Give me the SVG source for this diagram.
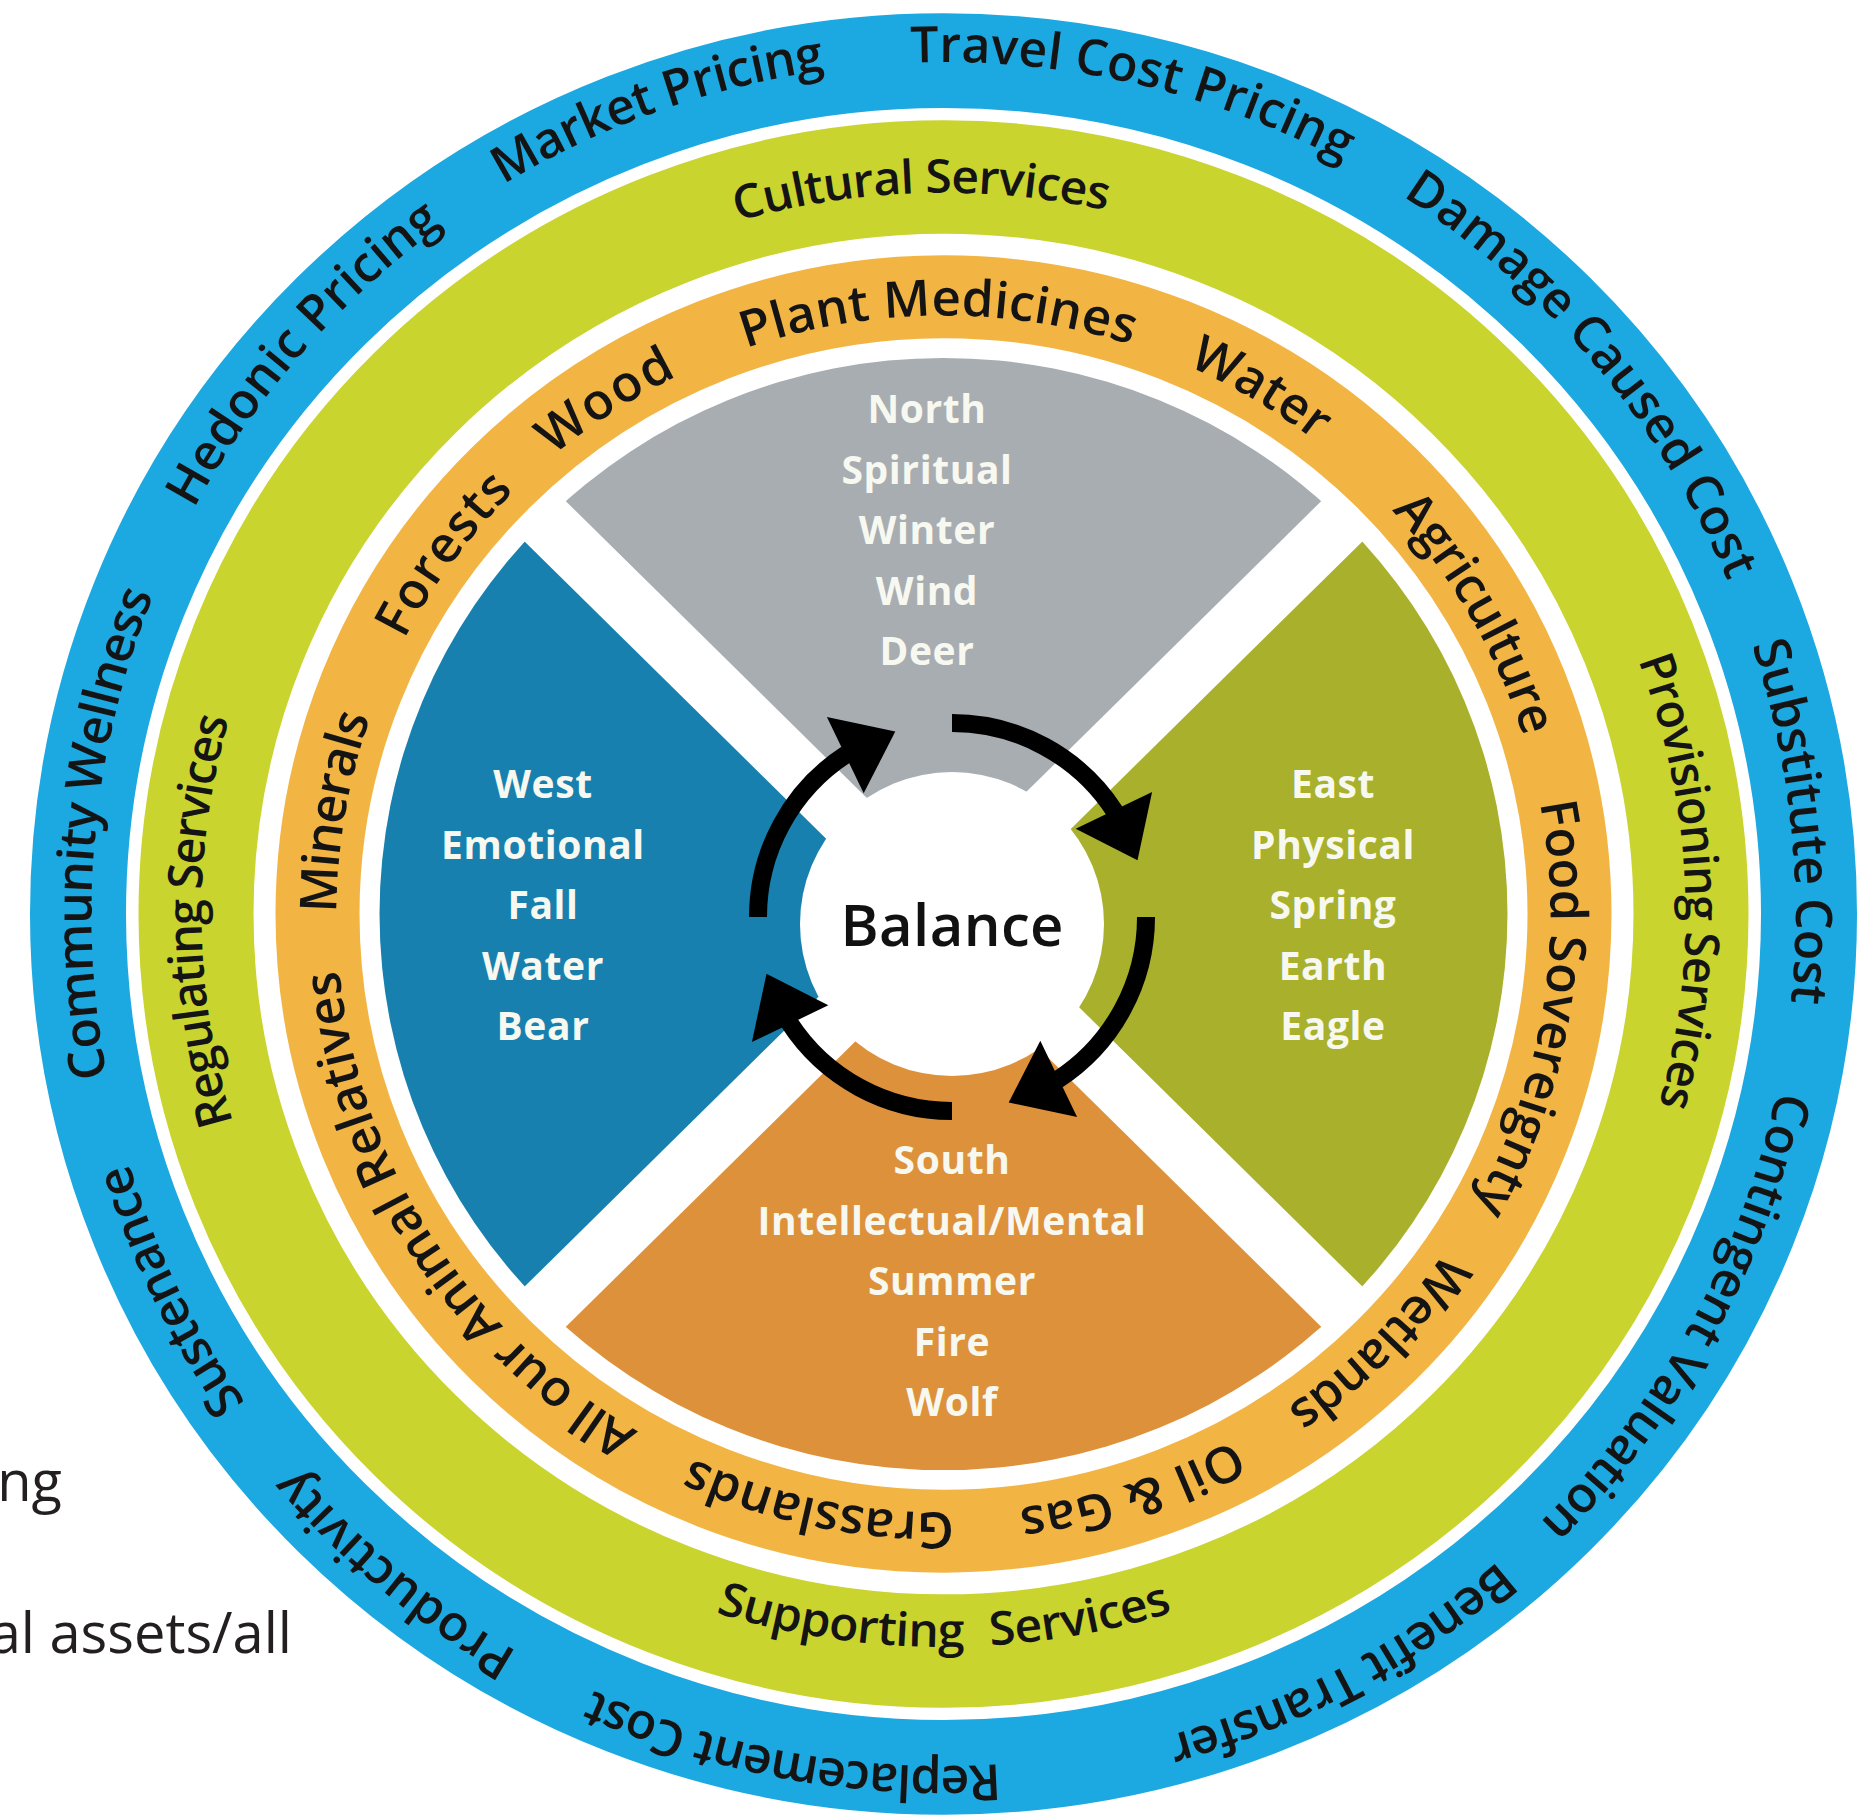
<svg xmlns="http://www.w3.org/2000/svg" width="1871" height="1819" viewBox="0 0 1871 1819">
<style>
.rt{font-family:"Open Sans","Noto Sans",sans-serif;font-weight:600;fill:#141414}
.bt{font-size:50px}
.gt{font-size:48px}
.ot{font-size:51px}
.qt{font-family:"Open Sans","Noto Sans",sans-serif;font-weight:700;font-size:39px;fill:#F7F8F0;text-anchor:middle;letter-spacing:0.6px}
.frag{font-family:"Open Sans","Noto Sans",sans-serif;font-size:56px;fill:#231F20;text-anchor:end}
.sec{stroke:none}
</style>
<defs>
<path id="pb" d="M852,0 A852,852 0 1 1 -852,0 A852,852 0 1 1 852,0"/>
<path id="pg" d="M742,0 A742,742 0 1 1 -742,0 A742,742 0 1 1 742,0"/>
<path id="pgc" d="M754,0 A754,754 0 1 0 -754,0 A754,754 0 1 0 754,0"/>
<path id="po" d="M607,0 A607,607 0 1 1 -607,0 A607,607 0 1 1 607,0"/>
<g id="arr">
<path d="M758,917 A194,194 0 0 1 846.3,754.3" fill="none" stroke="#000" stroke-width="18"/>
<polygon points="863.7,793.3 826.9,716.9 895.3,731.5" fill="#000"/>
</g>
</defs>
<rect width="1871" height="1819" fill="#fff"/>
<g id="rings" transform="translate(943.5,914) scale(1,0.986)">
<circle r="865.5" fill="none" stroke="#1CA8E0" stroke-width="96"/>
<circle r="747.5" fill="none" stroke="#C9D42F" stroke-width="115"/>
<circle r="626" fill="none" stroke="#F2B544" stroke-width="84"/>
</g>
<g id="valuation-labels" class="rt bt" transform="translate(943.5,914)">
<text transform="rotate(169)"><textPath href="#pb" textLength="490.7" lengthAdjust="spacing">Community Wellness</textPath></text>
<text transform="rotate(208.4)"><textPath href="#pb" textLength="380.7" lengthAdjust="spacing">Hedonic Pricing</textPath></text>
<text transform="rotate(238.9)"><textPath href="#pb" textLength="343.5" lengthAdjust="spacing">Market Pricing</textPath></text>
<text transform="rotate(267.8)"><textPath href="#pb" textLength="449.1" lengthAdjust="spacing">Travel Cost Pricing</textPath></text>
<text transform="rotate(302.6)"><textPath href="#pb" textLength="511.5" lengthAdjust="spacing">Damage Caused Cost</textPath></text>
<text transform="rotate(341.6)"><textPath href="#pb" textLength="362.8" lengthAdjust="spacing">Substitute Cost</textPath></text>
<text transform="rotate(12)"><textPath href="#pb" textLength="499.6" lengthAdjust="spacing">Contingent Valuation</textPath></text>
<text transform="rotate(49.4)"><textPath href="#pb" textLength="377.7" lengthAdjust="spacing">Benefit Transfer</textPath></text>
<text transform="rotate(86.2)"><textPath href="#pb" textLength="417.8" lengthAdjust="spacing">Replacement Cost</textPath></text>
<text transform="rotate(120)"><textPath href="#pb" textLength="290" lengthAdjust="spacing">Productivity</textPath></text>
<text transform="rotate(145)"><textPath href="#pb" textLength="267.7" lengthAdjust="spacing">Sustenance</textPath></text>
</g>
<g id="service-labels" class="rt gt" transform="translate(943.5,914) scale(1,0.972)">
<text transform="rotate(253.9)"><textPath href="#pg" textLength="373" lengthAdjust="spacing">Cultural Services</textPath></text>
<text transform="rotate(339.4)"><textPath href="#pg" textLength="466" lengthAdjust="spacing">Provisioning Services</textPath></text>
<text transform="rotate(163.2)"><textPath href="#pg" textLength="420.9" lengthAdjust="spacing">Regulating Services</textPath></text>
<text transform="rotate(107.6)" word-spacing="14"><textPath href="#pgc" textLength="464.5" lengthAdjust="spacing">Supporting Services</textPath></text>
</g>
<g id="resource-labels" class="rt ot" transform="translate(943.5,914) scale(1,0.986)">
<text transform="rotate(207.3)"><textPath href="#po" textLength="187.5" lengthAdjust="spacing">Forests</textPath></text>
<text transform="rotate(230)"><textPath href="#po" textLength="148.3" lengthAdjust="spacing">Wood</textPath></text>
<text transform="rotate(251)"><textPath href="#po" textLength="392" lengthAdjust="spacing">Plant Medicines</textPath></text>
<text transform="rotate(293.7)"><textPath href="#po" textLength="149.4" lengthAdjust="spacing">Water</textPath></text>
<text transform="rotate(317.6)"><textPath href="#po" textLength="267" lengthAdjust="spacing">Agriculture</textPath></text>
<text transform="rotate(349.3)"><textPath href="#po" textLength="422.7" lengthAdjust="spacing">Food Sovereignty</textPath></text>
<text transform="rotate(34.4)"><textPath href="#po" textLength="224.6" lengthAdjust="spacing">Wetlands</textPath></text>
<text transform="rotate(61.5)"><textPath href="#po" textLength="226.7" lengthAdjust="spacing">Oil &amp; Gas</textPath></text>
<text transform="rotate(89)"><textPath href="#po" textLength="270.1" lengthAdjust="spacing">Grasslands</textPath></text>
<text transform="rotate(120.2)"><textPath href="#po" textLength="576.3" lengthAdjust="spacing">All our Animal Relatives</textPath></text>
<text transform="rotate(180.1)"><textPath href="#po" textLength="202.3" lengthAdjust="spacing">Minerals</textPath></text>
</g>
<g id="north">
<path class="sec" fill="#A8ADB2" transform="translate(943.5,914) scale(1,0.986)" d="M0,0 L-398.8,-398.8 A564,564 0 0 1 398.8,-398.8 Z"/>
<text class="qt" x="927" y="423">North</text>
<text class="qt" x="927" y="483.5">Spiritual</text>
<text class="qt" x="927" y="544">Winter</text>
<text class="qt" x="927" y="604.5">Wind</text>
<text class="qt" x="927" y="665">Deer</text>
</g>
<g id="east">
<path class="sec" fill="#A8B02C" transform="translate(943.5,914) scale(1,0.986)" d="M0,0 L398.8,-398.8 A564,564 0 0 1 398.8,398.8 Z"/>
<text class="qt" x="1333" y="798">East</text>
<text class="qt" x="1333" y="858.5">Physical</text>
<text class="qt" x="1333" y="919">Spring</text>
<text class="qt" x="1333" y="979.5">Earth</text>
<text class="qt" x="1333" y="1040">Eagle</text>
</g>
<g id="south">
<path class="sec" fill="#DE913B" transform="translate(943.5,914) scale(1,0.986)" d="M0,0 L398.8,398.8 A564,564 0 0 1 -398.8,398.8 Z"/>
<text class="qt" x="952" y="1174">South</text>
<text class="qt" x="952" y="1234.5">Intellectual/Mental</text>
<text class="qt" x="952" y="1295">Summer</text>
<text class="qt" x="952" y="1355.5">Fire</text>
<text class="qt" x="952" y="1416">Wolf</text>
</g>
<g id="west">
<path class="sec" fill="#1880AE" transform="translate(943.5,914) scale(1,0.986)" d="M0,0 L-398.8,398.8 A564,564 0 0 1 -398.8,-398.8 Z"/>
<text class="qt" x="543" y="798">West</text>
<text class="qt" x="543" y="858.5">Emotional</text>
<text class="qt" x="543" y="919">Fall</text>
<text class="qt" x="543" y="979.5">Water</text>
<text class="qt" x="543" y="1040">Bear</text>
</g>
<g id="dividers" transform="translate(943.5,914) scale(1,0.986)" stroke="#fff" stroke-width="58">
<line x1="-404" y1="-404" x2="404" y2="404"/>
<line x1="404" y1="-404" x2="-404" y2="404"/>
</g>
<g id="balance">
<circle cx="952" cy="924" r="152" fill="#fff"/>
<text x="952" y="946" font-family="Open Sans, Noto Sans, sans-serif" font-weight="600" font-size="58" fill="#111" text-anchor="middle" textLength="223" lengthAdjust="spacing">Balance</text>
</g>
<g id="connectors">
<use href="#arr"/>
<use href="#arr" transform="rotate(90 952 917)"/>
<use href="#arr" transform="rotate(180 952 917)"/>
<use href="#arr" transform="rotate(270 952 917)"/>
</g>
<g id="fragments">
<text class="frag" x="62" y="1501">ng</text>
<text class="frag" x="292" y="1653">al assets/all</text>
</g>
</svg>
